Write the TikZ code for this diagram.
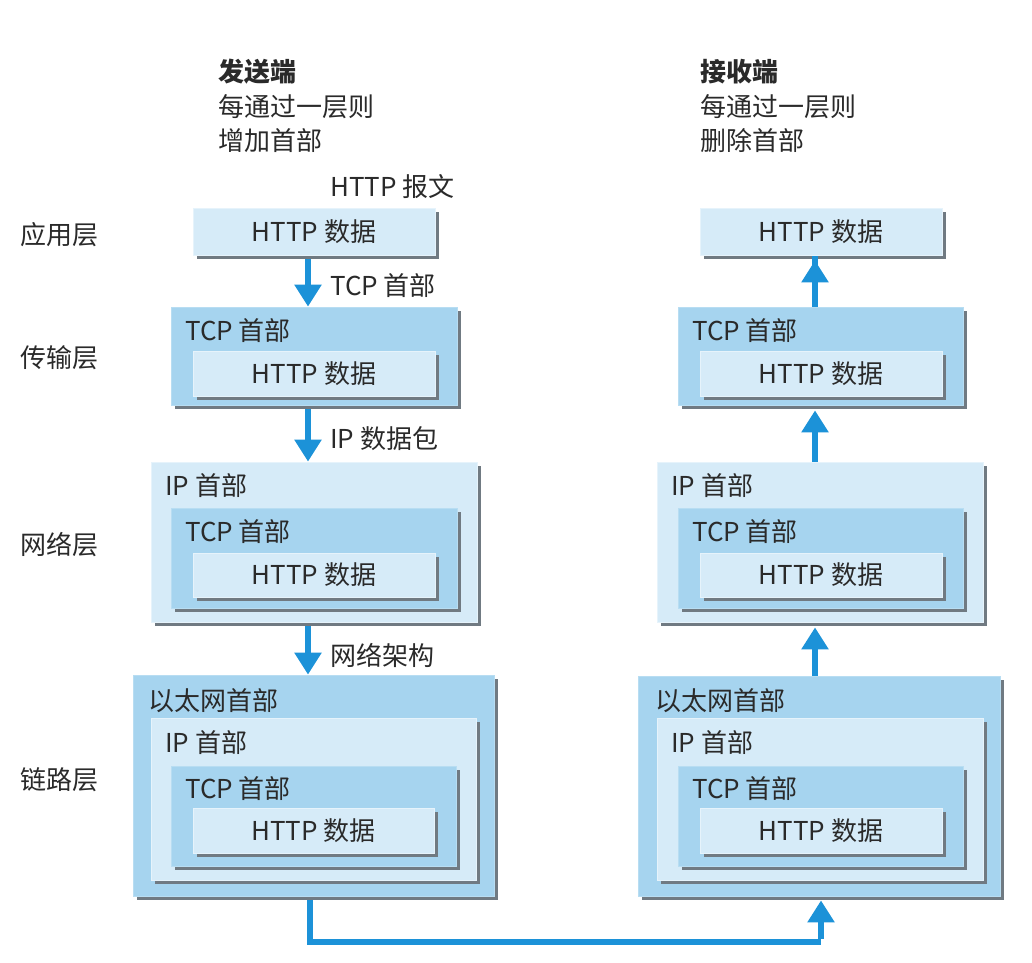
\documentclass[tikz,border=0pt]{standalone}
\usepackage{fontspec}
\setmainfont{Noto Sans CJK SC}
\usetikzlibrary{arrows.meta,shadows}
\definecolor{lightfill}{HTML}{D6EBF8}
\definecolor{midfill}{HTML}{A6D4EF}
\definecolor{shadowc}{HTML}{707A82}
\definecolor{arrowc}{HTML}{1C92D8}
\definecolor{txt}{HTML}{2A2A2A}
\tikzset{
  boxbase/.style={rectangle, inner sep=0pt, anchor=center,
    general shadow={fill=shadowc, shadow xshift=4pt, shadow yshift=-4pt}},
  lbox/.style={boxbase, fill=lightfill, draw=lightfill!60!white, line width=0.8pt},
  mbox/.style={boxbase, fill=midfill, draw=midfill!80!white, line width=0.8pt},
  lbl/.style={anchor=west, inner sep=0pt, text=txt, font=\fontsize{26}{30}\selectfont},
  ctr/.style={anchor=center, inner sep=0pt, text=txt, font=\fontsize{26}{30}\selectfont},
  flow/.style={draw=arrowc, line width=6pt, -{Triangle[width=26pt,length=22pt]}},
  link/.style={draw=arrowc, line width=6pt}
}
\newcommand{\bx}[6]{%
  \node[#2, minimum width={(#5-#3)*1pt}, minimum height={(#6-#4)*1pt}]
    (#1) at ({(#3+#5)/2},{(#4+#6)/2}) {};}
\begin{document}
\begin{tikzpicture}[x=1pt,y=-1pt]
\useasboundingbox (0,0) rectangle (1032,962);
\fill[white] (0,0) rectangle (1032,962);

% headers
\node[lbl, font=\fontsize{26}{30}\selectfont\bfseries] (sh1) at (218,72) {发送端};
\node[lbl] (sh2) at (218,107) {每通过一层则};
\node[lbl] (sh3) at (218,141) {增加首部};
\node[lbl, font=\fontsize{26}{30}\selectfont\bfseries] (rh1) at (700,72) {接收端};
\node[lbl] (rh2) at (700,107) {每通过一层则};
\node[lbl] (rh3) at (700,141) {删除首部};

% layer labels
\node[lbl] (l1) at (20,235) {应用层};
\node[lbl] (l2) at (20,358) {传输层};
\node[lbl] (l3) at (20,545) {网络层};
\node[lbl] (l4) at (20,780) {链路层};

\node[lbl] (msg) at (330,187) {HTTP 报文};

% ---------- sender column ----------
\bx{sA}{lbox}{193}{208}{435}{255}
\node[ctr] at (sA) {HTTP 数据};

\bx{sT}{mbox}{171}{307}{457}{405}
\node[lbl] at (185,331) {TCP 首部};
\bx{sTh}{lbox}{193}{351}{435}{396}
\node[ctr] at (sTh) {HTTP 数据};

\bx{sN}{lbox}{151}{462}{477}{622}
\node[lbl] at (165,486) {IP 首部};
\bx{sNt}{mbox}{171}{508}{457}{608}
\node[lbl] at (185,532) {TCP 首部};
\bx{sNh}{lbox}{193}{553}{435}{597}
\node[ctr] at (sNh) {HTTP 数据};

\bx{sL}{mbox}{133}{675}{494}{896}
\node[lbl] at (148,701) {以太网首部};
\bx{sLi}{lbox}{151}{718}{476}{880}
\node[lbl] at (165,743) {IP 首部};
\bx{sLt}{mbox}{171}{766}{456}{866}
\node[lbl] at (185,789) {TCP 首部};
\bx{sLh}{lbox}{193}{808}{434}{853}
\node[ctr] at (sLh) {HTTP 数据};

% ---------- receiver column ----------
\bx{rA}{lbox}{700}{208}{942}{255}
\node[ctr] at (rA) {HTTP 数据};

\bx{rT}{mbox}{678}{307}{963}{405}
\node[lbl] at (692,331) {TCP 首部};
\bx{rTh}{lbox}{700}{351}{942}{396}
\node[ctr] at (rTh) {HTTP 数据};

\bx{rN}{lbox}{657}{462}{983}{622}
\node[lbl] at (671,486) {IP 首部};
\bx{rNt}{mbox}{678}{508}{963}{608}
\node[lbl] at (692,532) {TCP 首部};
\bx{rNh}{lbox}{700}{553}{942}{597}
\node[ctr] at (rNh) {HTTP 数据};

\bx{rL}{mbox}{638}{676}{1000}{896}
\node[lbl] at (655,701) {以太网首部};
\bx{rLi}{lbox}{657}{718}{983}{880}
\node[lbl] at (671,743) {IP 首部};
\bx{rLt}{mbox}{678}{766}{963}{866}
\node[lbl] at (692,789) {TCP 首部};
\bx{rLh}{lbox}{700}{808}{942}{853}
\node[ctr] at (rLh) {HTTP 数据};

% ---------- arrows ----------
\draw[flow] (sA.south -| 308,0) ++(0,4) -- (sT.north -| 308,0);
\draw[flow] (sT.south -| 308,0) ++(0,4) -- (sN.north -| 308,0);
\draw[flow] (sN.south -| 308,0) ++(0,4) -- (sL.north -| 308,0);
\node[lbl] (a1) at (330,286) {TCP 首部};
\node[lbl] (a2) at (330,439) {IP 数据包};
\node[lbl] (a3) at (330,655) {网络架构};

\draw[flow] (rT.north -| 815,0) -- ([yshift=-1pt]rA.south -| 815,0) ++(0,4);
\draw[flow] (rN.north -| 815,0) -- ([yshift=-5pt]rT.south -| 815,0);
\draw[flow] (rL.north -| 815,0) -- ([yshift=-5pt]rN.south -| 815,0);

\coordinate (c1) at (310,942);
\coordinate (c2) at (821,942);
\draw[link] ([yshift=-4pt]sL.south -| 310,0) -- (c1) -- (c2);
\draw[flow] ([yshift=3pt]c2) -- ([yshift=-4pt]rL.south -| 821,0);
\end{tikzpicture}
\end{document}
